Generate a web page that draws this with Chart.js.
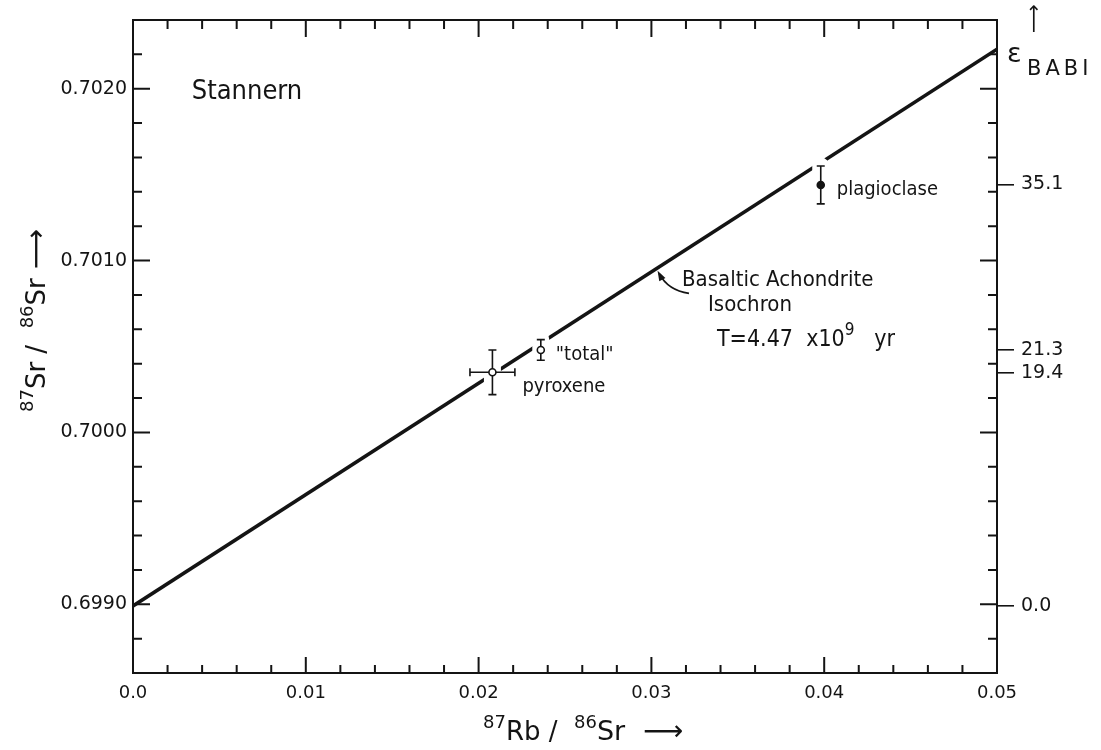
<!DOCTYPE html>
<html>
<head>
<meta charset="utf-8">
<title>Stannern Rb-Sr isochron</title>
<script src="https://cdn.jsdelivr.net/npm/chart.js@4.4.1/dist/chart.umd.min.js"></script>
<style>
  html, body { margin: 0; padding: 0; background: #fff; }
  #wrap { width: 1101px; height: 750px; }
</style>
</head>
<body>
<div id="wrap"><canvas id="isochron"></canvas></div>
<script>
"use strict";

// mineral separates: 87Rb/86Sr, 87Sr/86Sr and their errors
var sampleNames = ['pyroxene', '"total"', 'plagioclase'];
var rbSr = [0.0208, 0.0236, 0.0398];
var srSr = [0.70035, 0.70048, 0.70144];
var rbSrErr = [0.0013, 0, 0];
var srSrErr = [0.00013, 0.00006, 0.00011];

// basaltic achondrite isochron (T = 4.47 x 10^9 yr), starts at BABI
var BABI = 0.69899;
var isoX = [0.0, 0.05];
var isoY = [BABI, 0.70223];

// epsilon(BABI) values marked on the right hand axis
var epsTicks = [0.0, 19.4, 21.3, 35.1];

var xMin = 0, xMax = 0.05;
var yMin = 0.6986, yMax = 0.7024;

var ink = '#141414';
var numFont = "'DejaVu Sans', sans-serif";
var wordFont = "'DejaVu Sans Condensed', 'DejaVu Sans', sans-serif";

function toEps(r) { return (r / BABI - 1) * 1e4; }
function isMajor(v, step) { return Math.abs(v / step - Math.round(v / step)) < 1e-6; }

// writes a run of pieces [text, size, rise, font] left to right along a baseline
function drawParts(c, parts, x, y) {
    parts.forEach(function(p) {
        c.font = p[1] + 'px ' + (p[3] || wordFont);
        c.fillText(p[0], x, y - (p[2] || 0));
        x += c.measureText(p[0]).width;
    });
}

// break the isochron around the error bars, then draw the bars
var errorBars = {
    id: 'errorBars',
    afterDatasetDraw: function(chart, args) {
        if (args.index !== 1) return;
        var c = chart.ctx, sx = chart.scales.x, sy = chart.scales.y;
        c.save();
        c.lineCap = 'round';
        c.strokeStyle = '#fff';
        c.lineWidth = 17;
        c.beginPath();
        rbSr.forEach(function(x, i) {
            var px = sx.getPixelForValue(x);
            c.moveTo(px, sy.getPixelForValue(srSr[i] - srSrErr[i]));
            c.lineTo(px, sy.getPixelForValue(srSr[i] + srSrErr[i]));
        });
        c.stroke();

        c.lineCap = 'butt';
        c.strokeStyle = ink;
        c.lineWidth = 1.6;
        c.beginPath();
        rbSr.forEach(function(x, i) {
            var px = sx.getPixelForValue(x), py = sy.getPixelForValue(srSr[i]);
            if (srSrErr[i]) {
                var y0 = sy.getPixelForValue(srSr[i] - srSrErr[i]);
                var y1 = sy.getPixelForValue(srSr[i] + srSrErr[i]);
                c.moveTo(px, y0); c.lineTo(px, y1);
                c.moveTo(px - 4, y0); c.lineTo(px + 4, y0);
                c.moveTo(px - 4, y1); c.lineTo(px + 4, y1);
            }
            if (rbSrErr[i]) {
                var x0 = sx.getPixelForValue(x - rbSrErr[i]);
                var x1 = sx.getPixelForValue(x + rbSrErr[i]);
                c.moveTo(x0, py); c.lineTo(x1, py);
                c.moveTo(x0, py - 4); c.lineTo(x0, py + 4);
                c.moveTo(x1, py - 4); c.lineTo(x1, py + 4);
            }
        });
        c.stroke();
        c.restore();
    }
};

// box frame with inward ticks on all four sides, plus titles and notes
var frameAndText = {
    id: 'frameAndText',
    afterDraw: function(chart) {
        var c = chart.ctx, a = chart.chartArea, sx = chart.scales.x, sy = chart.scales.y;
        c.save();
        c.strokeStyle = ink;
        c.fillStyle = ink;
        c.lineWidth = 2;
        c.strokeRect(a.left, a.top, a.right - a.left, a.bottom - a.top);

        c.beginPath();
        sx.ticks.forEach(function(t) {
            var px = sx.getPixelForValue(t.value), big = t.label !== '';
            c.moveTo(px, a.bottom); c.lineTo(px, a.bottom - (big ? 16 : 8));
            c.moveTo(px, a.top); c.lineTo(px, a.top + (big ? 17 : 9));
        });
        sy.ticks.forEach(function(t) {
            var py = sy.getPixelForValue(t.value), big = t.label !== '';
            c.moveTo(a.left, py); c.lineTo(a.left + (big ? 17 : 9), py);
            c.moveTo(a.right, py); c.lineTo(a.right - (big ? 17 : 9), py);
        });
        c.stroke();

        c.textBaseline = 'alphabetic';
        c.textAlign = 'left';

        // sample labels beside each point
        var offs = [[30, 20], [15, 10], [16, 10]];
        sampleNames.forEach(function(n, i) {
            c.font = '20px ' + wordFont;
            c.fillText(n, sx.getPixelForValue(rbSr[i]) + offs[i][0], sy.getPixelForValue(srSr[i]) + offs[i][1]);
        });

        c.font = '27px ' + wordFont;
        c.fillText('Stannern', sx.getPixelForValue(0.0034), sy.getPixelForValue(0.70200) + 10);

        // isochron note with its curved pointer
        var nx = sx.getPixelForValue(0.03177), ny = sy.getPixelForValue(0.70085);
        drawParts(c, [['Basaltic Achondrite', 22]], nx, ny);
        drawParts(c, [['Isochron', 22]], nx + 26, ny + 25);
        drawParts(c, [['T=4.47  x10', 23], ['9', 17, 11], ['   yr', 23]], nx + 35, ny + 60);

        var p0 = [nx + 7, ny + 7], p1 = [nx - 14, ny + 4], p2 = [nx - 23, ny - 13];
        c.lineWidth = 1.7;
        c.beginPath();
        c.moveTo(p0[0], p0[1]);
        c.quadraticCurveTo(p1[0], p1[1], p2[0], p2[1]);
        c.stroke();
        var ang = Math.atan2(p2[1] - p1[1], p2[0] - p1[0]);
        c.beginPath();
        c.moveTo(p2[0] + 3 * Math.cos(ang), p2[1] + 3 * Math.sin(ang));
        c.lineTo(p2[0] - 8 * Math.cos(ang - 0.45), p2[1] - 8 * Math.sin(ang - 0.45));
        c.lineTo(p2[0] - 8 * Math.cos(ang + 0.45), p2[1] - 8 * Math.sin(ang + 0.45));
        c.closePath();
        c.fill();

        // axis titles
        var xTitle = [['87', 18, 12, numFont], ['Rb', 26, 0, numFont], [' /  ', 26, 0, numFont],
                      ['86', 18, 12, numFont], ['Sr', 27, 0, numFont], ['  \u27F6', 28, 0, numFont]];
        var yTitle = [['87', 18, 12, numFont], ['Sr', 26, 0, numFont], [' /  ', 26, 0, numFont],
                      ['86', 18, 12, numFont], ['Sr', 26, 0, numFont], [' \u27F6', 28, 0, numFont]];
        drawParts(c, xTitle, a.left + 350, a.bottom + 67);
        c.save();
        c.translate(a.left - 88, a.top + 392);
        c.rotate(-Math.PI / 2);
        drawParts(c, yTitle, 0, 0);
        c.restore();

        // epsilon title on the right
        c.font = '27px ' + numFont;
        c.fillText('\u03B5', a.right + 10, a.top + 42);
        c.font = '21px ' + numFont;
        c.letterSpacing = '4px';
        c.fillText('BABI', a.right + 30, a.top + 55);
        c.letterSpacing = '0px';
        c.save();
        c.translate(a.right + 43, a.top + 13);
        c.rotate(-Math.PI / 2);
        c.font = '20px ' + numFont;
        c.fillText('\u27F6', 0, 0);
        c.restore();

        c.restore();
    }
};

var chart = new Chart(document.getElementById('isochron'), {
    type: 'scatter',
    data: {
        datasets: [{
            label: 'samples',
            data: rbSr.map(function(x, i) { return { x: x, y: srSr[i] }; }),
            pointRadius: 3.5,
            pointBorderWidth: 1.6,
            pointBorderColor: ink,
            pointBackgroundColor: ['#fff', '#fff', ink]
        }, {
            type: 'line',
            label: 'isochron',
            data: isoX.map(function(x, i) { return { x: x, y: isoY[i] }; }),
            borderColor: ink,
            borderWidth: 3.6,
            pointRadius: 0,
            fill: false,
            tension: 0
        }]
    },
    options: {
        responsive: true,
        maintainAspectRatio: false,
        animation: false,
        layout: { padding: { top: 20, left: 0, right: 0, bottom: 0 } },
        plugins: {
            legend: { display: false },
            tooltip: { enabled: false }
        },
        scales: {
            x: {
                type: 'linear',
                min: xMin,
                max: xMax,
                border: { display: false },
                grid: { display: false, drawTicks: false },
                ticks: {
                    stepSize: 0.002,
                    autoSkip: false,
                    maxRotation: 0,
                    padding: 10,
                    color: ink,
                    font: { family: numFont, size: 18 },
                    callback: function(v) { return isMajor(v, 0.01) ? (v === 0 ? '0.0' : v.toFixed(2)) : ''; }
                },
                afterFit: function(s) { s.height = 77; }
            },
            y: {
                type: 'linear',
                position: 'left',
                min: yMin,
                max: yMax,
                border: { display: false },
                grid: { display: false, drawTicks: false },
                ticks: {
                    stepSize: 0.0002,
                    autoSkip: false,
                    padding: 6,
                    color: ink,
                    font: { family: numFont, size: 19 },
                    callback: function(v) { return isMajor(v, 0.001) ? v.toFixed(4) : ''; }
                },
                afterFit: function(s) { s.width = 133; }
            },
            eps: {
                type: 'linear',
                position: 'right',
                min: toEps(yMin),
                max: toEps(yMax),
                border: { display: false },
                grid: { drawOnChartArea: false, drawTicks: true, tickLength: 17, color: ink, lineWidth: 1.6 },
                afterBuildTicks: function(s) { s.ticks = epsTicks.map(function(v) { return { value: v }; }); },
                ticks: {
                    autoSkip: false,
                    padding: 7,
                    color: ink,
                    font: { family: numFont, size: 19 },
                    callback: function(v) { return v.toFixed(1); }
                },
                afterFit: function(s) { s.width = 104; }
            }
        }
    },
    plugins: [errorBars, frameAndText]
});
</script>
</body>
</html>
